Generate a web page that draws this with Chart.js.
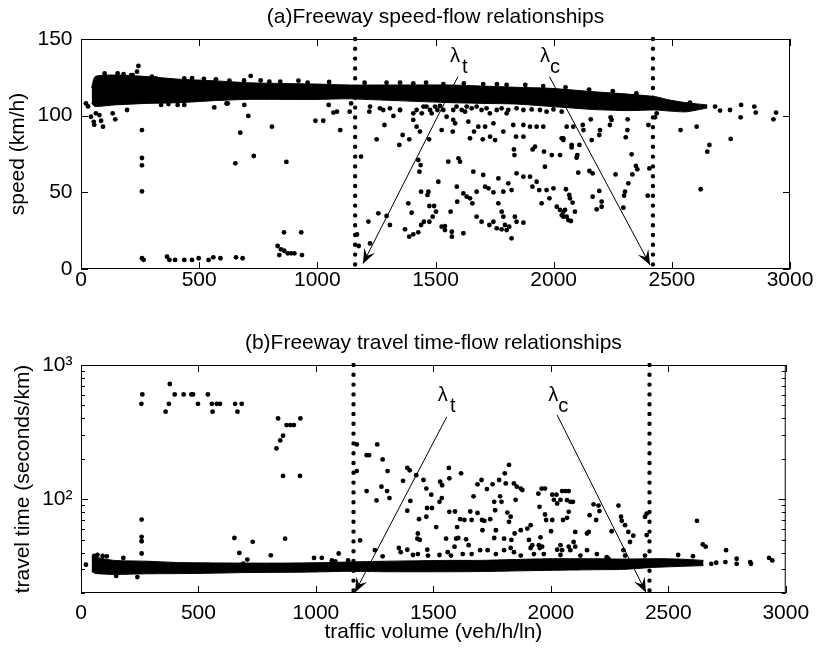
<!DOCTYPE html>
<html>
<head>
<meta charset="utf-8">
<title>Freeway speed-flow and travel time-flow</title>
<script src="https://cdn.jsdelivr.net/npm/chart.js@4"></script>
<style>
  body { margin: 0; background: #fff; }
  #wrap { position: relative; width: 817px; height: 649px; }
  canvas { position: absolute; left: 0; }
</style>
</head>
<body>
<div id="wrap">
  <canvas id="speedChart" width="817" height="300" style="top:0"></canvas>
  <canvas id="timeChart" width="817" height="349" style="top:300px"></canvas>
</div>
<script>
// ---- data ----
const flowTicks = [0, 500, 1000, 1500, 2000, 2500, 3000];
const speedTicks = [0, 50, 100, 150];
const timeTicks = [100, 1000];
const timeMinorTicks = [20, 30, 40, 50, 60, 70, 80, 90, 200, 300, 400, 500, 600, 700, 800, 900];

// dense band of free-flow observations (upper / lower edge)
const bandFlow    = [45, 60, 140, 280, 420, 560, 700, 850, 1000, 1130, 1300, 1560, 1700, 1840, 1990, 2170, 2310, 2430, 2490, 2560, 2650];
const bandSpeedHi = [118, 125.5, 126.5, 125.5, 123.7, 122.8, 121.5, 121, 120.6, 120, 120, 120, 119.3, 118.5, 117.8, 115.6, 114.1, 112.4, 110.2, 108.5, 107];
const bandSpeedLo = [108, 106, 107, 108, 108.5, 109.8, 110.6, 110.6, 110.6, 111, 110, 108.5, 108, 107.6, 106, 104, 103.3, 103.7, 103, 102.5, 105];
const bandTimeHi  = [37, 37, 35, 34.5, 33.7, 33.5, 33.4, 33.4, 33.6, 34, 34.5, 35, 35, 35.5, 36, 36, 35.8, 36, 36, 35.7, 35];
const bandTimeLo  = [29, 28, 27.5, 27.8, 27.9, 28.1, 28.4, 28.5, 28.7, 29, 28.8, 28.8, 28.9, 29.2, 29.5, 29.8, 30, 31, 31.3, 31.6, 32];

// scattered observations [flow, speed]
const speedPts = [
  [21,108],[30,106],[42,99.3],[54,96],[56,94],[63,101.5],[78,100.4],[85,96.7],[93,92.8],[134,101.5],[145,97.6],[195,103.7],
  [258,90.6],[258,72.4],[258,67.6],[258,50.6],[258,7],[265,6],[243,132.4],[237,128.7],[219,126.5],
  [364,8],[374,5.9],[398,5.9],[437,5.9],[470,5.9],[498,7],[540,5.9],[560,7.6],[590,7],[656,7.6],[684,7],
  [564,105.4],[621,108],[691,107],[708,99.8],[674,88.9],[653,68.9],[731,73.7],[808,92.8],[869,69.8],[718,125.9],[920,122.8],
  [832,15],[846,12.8],[860,11.9],[875,10.2],[889,10.2],[903,10.2],[935,9.1],[839,9.1],[859,23.9],[932,23.9],
  [992,96.7],[1025,96.7],[1048,107],[1068,102],[1083,102.6],[1097,90.6],[1137,102.6],[1143,108],
  [1185,73.3],[1168,22.5],[1175,15],
  [339,107],[370,107.6],[409,107],[437,107],[616,108],
  [155,127.6],[212,126.5],[317,124.3],[437,124.3],[571,123.7],[628,122.8],[797,122.2],[843,122.2],[959,121.5],
  [100,127.5],[180,127],[300,125.5],[470,124.5],[520,124],[690,123],[760,123],[1050,122],[1200,121.5],[1350,121.5],
  [1460,121.5],[1620,121],[1760,120.5],[1880,120],[2050,118.5],[2150,117],[2250,116],[2350,114.5],
  [1293,121.5],[1406,121.1],[1533,120.6],[1702,120.6],[1801,120],[1956,119.3],
  [1220,102.6],[1265,104.8],[1284,93.9],[1322,99.8],[1350,103.7],[1251,84.6],[1347,80.9],[1361,87.4],[1389,84.6],[1406,97.2],
  [1420,92.8],[1434,89.6],[1442,101.5],[1449,105.9],[1427,71.1],[1437,67.8],[1432,63.5],[1473,84.6],[1484,101.5],[1508,103.7],
  [1526,90.6],[1547,99.3],[1575,97.2],[1573,89.6],[1583,95],[1597,72.2],[1604,70],[1554,70],[1625,102.6],[1639,96.1],
  [1646,85.2],[1663,89.6],[1681,92.8],[1700,84.6],[1710,92.8],[1731,86.3],[1752,84.1],[1745,95],[1787,89.6],[1801,101.5],
  [1829,93.9],[1841,86.3],[1832,78],[1834,74.3],[1872,93.9],[1872,86.3],[1900,92.8],[1911,78],[1921,79.8],[1928,92.8],
  [1956,92.8],[1959,76.5],[1992,74.3],[2027,74.3],[2034,85.2],[2041,84.1],[1963,66.7],
  [1406,101.5],[1420,103.7],[1462,105.9],[1477,103.7],[1498,105.9],[1519,106.3],[1533,103.7],[1575,103.7],[1589,105.9],[1611,103.7],
  [1632,105.9],[1653,104.8],[1674,105.9],[1695,103.7],[1716,104.8],[1730,101.5],[1759,103.7],[1780,104.8],[1808,103.7],[1843,104.8],
  [1872,103.7],[1907,104.1],[1942,103.7],[1970,102.6],[1999,104.1],[2034,102.6],[1307,104.8],[1350,103.7],[1223,105.9],[1279,103.7],
  [1512,56.9],[1439,50.4],[1466,48.3],[1470,50.4],[1385,42.8],[1474,41.1],[1494,41.1],[1399,36.7],[1488,34.1],[1451,30.8],
  [1474,30.8],[1439,28.7],[1371,25.9],[1389,21.1],[1406,22.6],[1427,23.9],[1526,27.6],[1540,28],[1540,25.4],[1569,21.1],
  [1618,23.3],[1592,43.9],[1618,49.3],[1660,63.5],[1674,50.4],[1702,61.3],[1710,53.7],[1724,52.6],[1745,50],[1766,59.1],
  [1787,50.4],[1808,55.9],[1822,51.5],[1843,62.4],[1872,60.2],[1900,60.2],[1910,53.7],[1928,56.9],[1939,51.5],[1970,51.5],
  [1999,52.6],[1949,42.8],[1982,46.1],[2013,40.6],[2027,38.5],[2041,34.1],[1590,53.7],[1632,47.2],[1646,46.1],[1656,42.8],
  [1674,34.1],[1695,30.8],[1728,28.7],[1745,30.8],[1766,42.8],[1780,37.4],[1787,34.1],[1794,28.7],[1812,27.6],[1822,20],
  [1836,34.1],[1843,30.8],[1872,30.2],[1801,25.4],[1780,25.9],[1759,26.5],[1502,37.4],[1564,37.4],[1569,24.3],[1293,34.6],
  [1307,28.7],[1258,36.3],[1216,30.9],[1223,16.7],
  [2683,105.9],[2704,103.3],[2746,103.7],[2793,107],[2791,98.9],[2849,105.9],[2855,102],[2930,97.6],[2941,102],[2537,90.6],
  [2605,92.8],[2749,84.8],[2659,80.9],[2650,76.5],[2622,52],[2577,108.5],[2436,101.5],[2429,98.9],[2401,93.9],[2405,65.6],
  [2398,47.8],[2313,97.6],[2312,90.6],[2305,85.9],[2241,98.9],[2245,97.2],[2238,93.9],[2196,90.6],[2193,87.4],[2161,84.1],
  [2157,97.6],[2123,93.9],[2126,90.6],[2083,92.8],[2055,92.8],[2041,85.2],[2076,80.9],[2076,79.3],[2109,80.9],[2100,74.3],
  [2097,72.6],[2330,74.8],[2348,67.2],[2354,65],[2333,61.7],[2316,55.9],[2302,50.4],[2298,47.8],[2295,40],[2262,61.7],
  [2165,62.4],[2151,63.9],[2104,62.8],[2193,50.9],[2165,47.2],[2203,43.9],[2203,40.6],[2182,38.9],[2090,37.4],[2080,43.3],
  [2069,46.1],[2066,48.3],[2052,52],[2048,38.5],[2055,34.1],[2062,31.9],[2041,37.4],[2073,31.3],[2034,35.2]
];

// scattered observations [flow, travel time]
const timePts = [
  [21,32.5],[56,37.8],[92,37.8],[70,38.5],[110,37.5],[180,36.5],[240,26.3],[150,26.8],
  [261,604],[257,514],[378,722],[399,604],[437,604],[470,604],[477,604],[374,514],[360,449],[498,514],[540,604],[557,514],
  [578,514],[592,514],[560,449],[656,514],[684,514],[666,449],
  [839,400],[875,357],[891,357],[906,357],[934,400],[860,297],[848,274],[832,239],[860,149],[932,149],
  [258,70.5],[258,52.4],[258,48.6],[258,39.4],
  [653,51.4],[674,39.8],[691,33.1],[708,35.5],[731,48.1],[808,38.2],[869,50.8],[992,36.5],[1025,36.5],[1068,35],[1083,34.4],
  [1097,39.4],[1137,35],
  [1174,256],[1216,213],[1226,213],[1261,256],[1284,198],[1305,162],[1216,115],[1258,98],[1279,124],[1303,115],
  [1313,102],[1174,162],[1371,137],[1389,171],[1399,164],[1427,151],[1402,97],[1389,82],[1439,71],[1470,74],
  [1473,86],[1494,86],[1458,139],[1470,120],[1491,108],[1434,55.5],[1432,50.8],[1442,49.7],[1512,62],[1529,135],
  [1537,127],[1536,102],[1566,171],[1568,143],[1618,156],[1554,50.8],[1597,50.8],[1606,51.4],[1601,62],[1592,81],
  [1614,71],[1657,81],[1663,70],[1671,105],[1688,79],[1688,129],[1705,139],[1728,119],[1707,70],[1717,69],
  [1709,58.7],[1742,71],[1752,129],[1759,95.6],[1763,82.7],[1766,58.7],[1759,51.4],[1780,139],[1784,105],[1790,95.6],
  [1804,156],[1822,180],[1808,131],[1815,79.5],[1822,67.8],[1829,74],[1801,50.8],[1832,49.7],[1843,131],[1855,124],
  [1872,120],[1879,117],[1850,99],[1846,55.5],[1872,58.7],[1900,60.4],[1914,64],[1907,49.7],[1921,45.4],[1947,110],
  [1952,87.7],[1961,120],[1975,120],[1975,76.9],[1980,70],[2001,57.7],[2006,108],[2013,99],[2024,108],[2027,92.9],
  [2041,99],[2048,115],[2062,115],[2006,70],[1956,52],[1949,45.4],[1963,44.3],[1632,70],[1639,50.2],[1650,45.4],
  [1590,44.3],[1526,95.6],[1568,80.5],
  [1251,41.7],[1284,37.5],[1353,43.3],[1361,40.3],[1389,42],[1413,38.4],[1434,39],[1474,42],[1477,38],[1526,38.4],
  [1561,40.3],[1575,38],[1625,39],[1663,39],[1699,41.7],[1731,41.7],[1766,39],[1801,41.7],[1829,43.3],[1843,40.3],
  [1872,38],[1914,43.3],[1928,39],[1953,43.3],[1970,39],[2027,42],[2041,38.4],[1188,49.3],
  [2076,115],[2069,98.3],[2083,95.6],[2094,95.6],[2076,80.5],[2069,72.7],[2052,70],[2104,57],[2097,48],[2104,44.3],
  [2076,44.3],[2083,41.7],[2048,41.7],[2041,45.4],[2126,38],[2154,41.7],[2161,57],[2154,55.5],[2165,76],[2182,91.6],
  [2203,89.6],[2207,81.6],[2193,70],[2196,39],[2259,57.7],[2288,89.6],[2299,74],[2302,69],[2316,64],[2330,57],
  [2351,53.5],[2337,48],[2309,41.7],[2316,38],[2401,74],[2408,78],[2408,54],[2401,38],[2238,37],[2245,36],
  [2622,69],[2647,46],[2659,44.3],[2605,37.6],[2542,38.4],[2746,41.7],[2791,36],[2791,33],[2743,34],[2704,33.6],
  [2683,33],[2849,34],[2852,33],[2929,36.5],[2943,35]
];

// thresholds (dotted lines) and annotation arrows [fromX, fromY, toX, toY]
const lambdaT = 1160;
const lambdaC = 2420;
const arrowsSpeed = [[1595, 125.5, 1193, 3.5], [1982, 125.5, 2408, 2.6]];
const arrowsTime  = [[1557, 411, 1166, 20.2], [2027, 424, 2405, 20.2]];
const labelsSpeed = [{x: 1582, y: 138.9, sub: 't'}, {x: 1963, y: 138.9, sub: 'c'}];
const labelsTime  = [{x: 1540, y: 597, sub: 't'}, {x: 2010, y: 597, sub: 'c'}];

const FONT = '"Liberation Sans", Arial, sans-serif';
const FSIZE = 21;
Chart.defaults.font.family = FONT;
Chart.defaults.font.size = FSIZE;
Chart.defaults.color = '#000';

// box around the plot with inward tick marks on all four sides
const framePlugin = {
  id: 'frame',
  afterDatasetsDraw(chart, args, opts) {
    const {ctx, chartArea: a} = chart;
    const x = chart.scales.x, y = chart.scales.y;
    ctx.save();
    ctx.strokeStyle = '#000';
    ctx.lineWidth = 1;
    ctx.strokeRect(a.left + 0.5, a.top + 0.5, a.width - 1, a.height - 1);
    ctx.beginPath();
    opts.xTicks.forEach(v => {
      const p = Math.round(x.getPixelForValue(v)) + 0.5;
      ctx.moveTo(p, a.bottom); ctx.lineTo(p, a.bottom - 7);
      ctx.moveTo(p, a.top); ctx.lineTo(p, a.top + 7);
    });
    const yTick = (v, len) => {
      const p = Math.round(y.getPixelForValue(v)) + 0.5;
      ctx.moveTo(a.left, p); ctx.lineTo(a.left + len, p);
      ctx.moveTo(a.right, p); ctx.lineTo(a.right - len, p);
    };
    opts.yTicks.forEach(v => yTick(v, 7));
    (opts.yMinor || []).forEach(v => yTick(v, 4));
    ctx.stroke();
    // panel title, centred over the plot box
    ctx.font = FSIZE + 'px ' + FONT;
    ctx.fillStyle = '#000';
    ctx.textAlign = 'center';
    ctx.textBaseline = 'middle';
    ctx.fillText(opts.title, (a.left + a.right) / 2, opts.titleY);
    ctx.restore();
  }
};

// lambda arrows and labels
const arrowPlugin = {
  id: 'arrows',
  afterDatasetsDraw(chart, args, opts) {
    const {ctx} = chart;
    const x = chart.scales.x, y = chart.scales.y;
    ctx.save();
    ctx.strokeStyle = '#000';
    ctx.fillStyle = '#000';
    ctx.lineWidth = 1;
    opts.items.forEach(([x0, y0, x1, y1]) => {
      const ax = x.getPixelForValue(x0), ay = y.getPixelForValue(y0);
      const bx = x.getPixelForValue(x1), by = y.getPixelForValue(y1);
      const ang = Math.atan2(by - ay, bx - ax);
      ctx.beginPath();
      ctx.moveTo(ax, ay);
      ctx.lineTo(bx, by);
      ctx.stroke();
      const L = 16, w = 0.38;
      ctx.beginPath();
      ctx.moveTo(bx, by);
      ctx.lineTo(bx - L * Math.cos(ang - w), by - L * Math.sin(ang - w));
      ctx.lineTo(bx - 0.55 * L * Math.cos(ang), by - 0.55 * L * Math.sin(ang));
      ctx.lineTo(bx - L * Math.cos(ang + w), by - L * Math.sin(ang + w));
      ctx.closePath();
      ctx.fill();
    });
    ctx.font = '20px ' + FONT;
    ctx.textAlign = 'center';
    ctx.textBaseline = 'middle';
    opts.labels.forEach(l => {
      const px = x.getPixelForValue(l.x), py = y.getPixelForValue(l.y);
      ctx.fillText('\u03bb', px, py);
      ctx.fillText(l.sub, px + 10, py + 11);
    });
    ctx.restore();
  }
};

function toXY(pairs) {
  return pairs.map(([x, y]) => ({x, y}));
}

function bandSet(edge, fill) {
  return {
    data: bandFlow.map((x, i) => ({x, y: edge[i]})),
    showLine: true,
    pointRadius: 0,
    borderColor: '#000',
    borderWidth: 1,
    backgroundColor: '#000',
    tension: 0.2,
    fill: fill
  };
}

function dottedLine(xv, top, bottom) {
  return {
    data: [{x: xv, y: top}, {x: xv, y: bottom}],
    showLine: true,
    pointRadius: 0,
    borderColor: '#000',
    borderWidth: 4.4,
    borderDash: [0, 9.8],
    borderCapStyle: 'round',
    clip: false
  };
}

function pointSet(pairs) {
  return {
    data: toXY(pairs),
    pointRadius: 2.4,
    pointBorderWidth: 0,
    backgroundColor: '#000',
    borderColor: '#000'
  };
}

const fixedTicks = list => scale => { scale.ticks = list.map(v => ({value: v})); };
const plainLabel = v => String(v);

// (a) speed-flow
new Chart(document.getElementById('speedChart'), {
  type: 'scatter',
  data: {
    datasets: [
      bandSet(bandSpeedHi, false),
      bandSet(bandSpeedLo, '-1'),
      pointSet(speedPts),
      dottedLine(lambdaT, 150, 2),
      dottedLine(lambdaC, 150, 2)
    ]
  },
  options: {
    responsive: false,
    animation: false,
    events: [],
    layout: {padding: {left: 0, right: 27, top: 39, bottom: 0}},
    scales: {
      x: {
        type: 'linear', min: 0, max: 3000,
        afterBuildTicks: fixedTicks(flowTicks),
        grid: {display: false, drawTicks: false},
        border: {display: false},
        ticks: {padding: -1, maxRotation: 0, autoSkip: false, callback: plainLabel},
        afterFit: s => { s.height = 31; }
      },
      y: {
        type: 'linear', min: 0, max: 150,
        afterBuildTicks: fixedTicks(speedTicks),
        grid: {display: false, drawTicks: false},
        border: {display: false},
        ticks: {padding: 8.5, autoSkip: false, callback: plainLabel},
        title: {display: true, text: 'speed (km/h)', padding: {top: 5.4, bottom: 0}},
        afterFit: s => { s.width = 81; }
      }
    },
    plugins: {
      legend: {display: false},
      tooltip: {enabled: false},
      frame: {xTicks: flowTicks, yTicks: speedTicks, title: '(a)Freeway speed-flow relationships', titleY: 17.5},
      arrows: {items: arrowsSpeed, labels: labelsSpeed}
    }
  },
  plugins: [framePlugin, arrowPlugin]
});

// (b) travel time-flow
new Chart(document.getElementById('timeChart'), {
  type: 'scatter',
  data: {
    datasets: [
      bandSet(bandTimeHi, false),
      bandSet(bandTimeLo, '-1'),
      pointSet(timePts),
      dottedLine(lambdaT, 1000, 20),
      dottedLine(lambdaC, 1000, 20)
    ]
  },
  options: {
    responsive: false,
    animation: false,
    events: [],
    layout: {padding: {left: 0, right: 27, top: 65, bottom: 0}},
    scales: {
      x: {
        type: 'linear', min: 0, max: 3000,
        afterBuildTicks: fixedTicks(flowTicks),
        grid: {display: false, drawTicks: false},
        border: {display: false},
        ticks: {padding: 7.9, maxRotation: 0, autoSkip: false, callback: plainLabel},
        title: {display: true, text: 'traffic volume (veh/h/ln)', padding: {top: 0, bottom: 4.4}},
        afterFit: s => { s.height = 56; }
      },
      y: {
        type: 'logarithmic', min: 20, max: 1000,
        afterBuildTicks: fixedTicks(timeTicks),
        grid: {display: false, drawTicks: false},
        border: {display: false},
        ticks: {
          padding: 8.5,
          autoSkip: false,
          callback: v => (v === 100 ? '10\u00b2' : v === 1000 ? '10\u00b3' : '')
        },
        title: {display: true, text: 'travel time (seconds/km)', padding: {top: 10.9, bottom: 0}},
        afterFit: s => { s.width = 81; }
      }
    },
    plugins: {
      legend: {display: false},
      tooltip: {enabled: false},
      frame: {xTicks: flowTicks, yTicks: timeTicks, yMinor: timeMinorTicks, title: '(b)Freeway travel time-flow relationships', titleY: 43},
      arrows: {items: arrowsTime, labels: labelsTime}
    }
  },
  plugins: [framePlugin, arrowPlugin]
});
</script>
</body>
</html>
